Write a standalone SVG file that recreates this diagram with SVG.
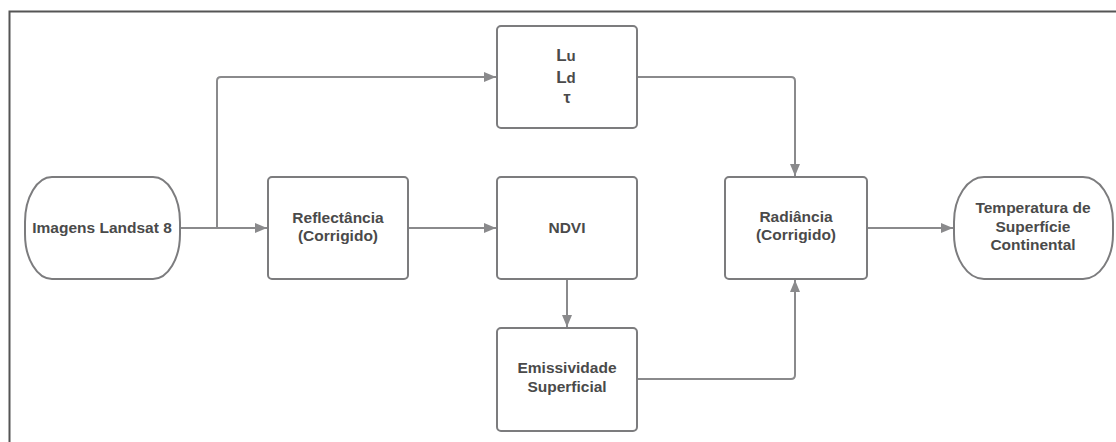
<svg xmlns="http://www.w3.org/2000/svg" width="1116" height="442" viewBox="0 0 1116 442">
<style>
.box{fill:#fff;stroke:#7c7c7e;stroke-width:2}
.t{font-family:"Liberation Sans",Arial,sans-serif;font-size:15.5px;font-weight:bold;fill:#4a4a4a;text-anchor:middle}
.g{font-family:"Liberation Sans",Arial,sans-serif;font-weight:bold;fill:#4a4a4a;text-anchor:middle}
.c{fill:none;stroke:#8a8a8c;stroke-width:2;stroke-linejoin:round}
</style>
<defs>
<marker id="ah" viewBox="0 0 12 10" refX="12" refY="5" markerWidth="12" markerHeight="10" markerUnits="userSpaceOnUse" orient="auto">
<path d="M0,0 L12,5 L0,10 Z" fill="#8a8a8c"/>
</marker>
</defs>
<rect width="1116" height="442" fill="#fff"/>
<path d="M9.5,442 V11.5 H1116" fill="none" stroke="#555" stroke-width="2"/>
<g id="connectors">
<path class="c" d="M180,228 H267" marker-end="url(#ah)"/>
<path class="c" d="M217,228 V81 Q217,77 221,77 H496" marker-end="url(#ah)"/>
<path class="c" d="M408,228 H496" marker-end="url(#ah)"/>
<path class="c" d="M637,77 H791 Q795,77 795,81 V176" marker-end="url(#ah)"/>
<path class="c" d="M567,279 V327" marker-end="url(#ah)"/>
<path class="c" d="M637,379 H791 Q795,379 795,375 V280" marker-end="url(#ah)"/>
<path class="c" d="M867,228 H953" marker-end="url(#ah)"/>
</g>
<g id="imagens">
<rect class="box" x="25" y="177" width="155" height="102" rx="27" ry="45"/>
<text class="t" x="102" y="233">Imagens Landsat 8</text>
</g>
<g id="lu">
<rect class="box" x="497" y="26" width="140" height="102" rx="4"/>
<text class="g" x="566" y="61" font-size="17">L<tspan font-size="15">u</tspan></text>
<text class="g" x="566" y="83" font-size="17">L<tspan font-size="15">d</tspan></text>
<text class="g" x="567" y="103" font-size="16">τ</text>
</g>
<g id="reflectancia">
<rect class="box" x="268" y="177" width="140" height="102" rx="4"/>
<text class="t" x="338" y="223">Reflectância</text>
<text class="t" x="338" y="241">(Corrigido)</text>
</g>
<g id="ndvi">
<rect class="box" x="497" y="177" width="140" height="102" rx="4"/>
<text class="t" x="567" y="233">NDVI</text>
</g>
<g id="emissividade">
<rect class="box" x="497" y="328" width="140" height="103" rx="4"/>
<text class="t" x="567" y="373">Emissividade</text>
<text class="t" x="567" y="392">Superficial</text>
</g>
<g id="radiancia">
<rect class="box" x="725" y="177" width="142" height="102" rx="4"/>
<text class="t" x="796" y="222">Radiância</text>
<text class="t" x="796" y="240">(Corrigido)</text>
</g>
<g id="temperatura">
<rect class="box" x="954" y="177" width="159" height="102" rx="30" ry="45"/>
<text class="t" x="1033" y="213">Temperatura de</text>
<text class="t" x="1033" y="232">Superfície</text>
<text class="t" x="1033" y="250">Continental</text>
</g>
</svg>
